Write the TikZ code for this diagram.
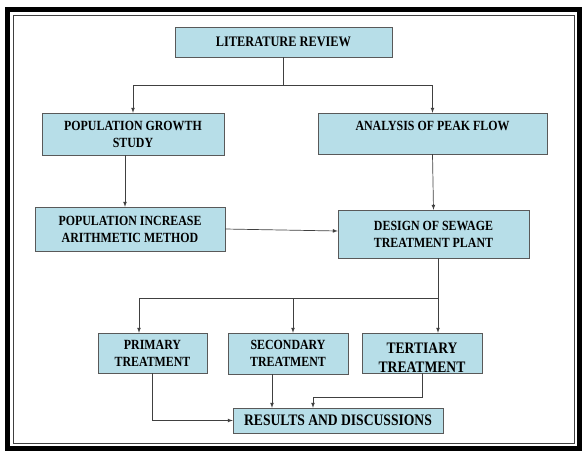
\documentclass[tikz,border=0pt]{standalone}
\usepackage{fontspec}
\setmainfont{Liberation Serif}[FakeStretch=0.85]
\usetikzlibrary{positioning,arrows,shadows}
\definecolor{boxfill}{RGB}{183,222,232}
\tikzset{
  box/.style={rectangle, draw=black!65, fill=boxfill, inner sep=0pt, align=center,
    font=\fontsize{14}{17}\selectfont\bfseries,
    drop shadow={shadow xshift=0.8pt, shadow yshift=-0.8pt, fill=black!45, opacity=1}},
  connect/.style={-latex, draw=black!75, line width=0.7pt}
}

\begin{document}
\begin{tikzpicture}[x=1pt,y=-1pt]
    \useasboundingbox (0,0) rectangle (582,451);
    % frame
    \draw[line width=5pt] (7.5,9) rectangle (579.5,448.5);
    \draw[black!75, line width=1pt] (13,15) rectangle (574.5,443);

    \node[box, minimum width=217pt, minimum height=30pt, font=\fontsize{14.5}{17}\selectfont\bfseries] (Lit) at (283.5,42) {LITERATURE REVIEW};
    \node[box, minimum width=182pt, minimum height=42pt] (Growth) at (133,134) {POPULATION GROWTH\\STUDY};
    \node[box, minimum width=229pt, minimum height=41pt, text height=10pt, text depth=16pt] (Peak) at (432.5,133.5) {ANALYSIS OF PEAK FLOW};
    \node[box, minimum width=190pt, minimum height=44pt] (Incr) at (130,229) {POPULATION INCREASE\\ARITHMETIC METHOD};
    \node[box, minimum width=191pt, minimum height=48pt] (Design) at (433.5,234) {DESIGN OF SEWAGE\\TREATMENT PLANT};
    \node[box, minimum width=109pt, minimum height=40pt] (Primary) at (152.5,353) {PRIMARY\\TREATMENT};
    \node[box, minimum width=120pt, minimum height=41pt] (Secondary) at (288,353.5) {SECONDARY\\TREATMENT};
    \node[box, minimum width=120pt, minimum height=40pt, font=\fontsize{16}{19}\selectfont\bfseries] (Tertiary) at (422,353) {\rule{0pt}{20pt}TERTIARY\\TREATMENT};
    \node[box, minimum width=210pt, minimum height=25pt, font=\fontsize{16}{19}\selectfont\bfseries] (Results) at (338,420.5) {RESULTS AND DISCUSSIONS};

    \draw[connect] (Lit.south) -- ++(0,28) -| (Growth.north);
    \draw[connect] (Lit.south) -- ++(0,28) -| (Peak.north);
    \path ([xshift=-8pt]Growth.south) edge [connect] ([xshift=-5pt]Incr.north)
          (Peak.south) edge [connect] (Design.north)
          (Incr.east) edge [connect] ([yshift=3pt]Design.west);

    \coordinate (Split) at (438,298);
    \draw[black!75, line width=0.7pt] ([xshift=4.5pt]Design.south) -- (Split);
    \draw[connect] (Split) -| ([xshift=-13.5pt]Primary.north);
    \draw[connect] (Split) -| ([xshift=5pt]Secondary.north);
    \draw[connect] (Split) -- (Split |- Tertiary.north);

    \draw[connect] (Primary.south) |- (Results.west);
    \draw[connect] ([xshift=-16pt]Secondary.south) -- ([xshift=-16pt]Secondary.south |- Results.north);
    \draw[connect] (Tertiary.south) -- ++(0,24) -| ([xshift=-25pt]Results.north);
\end{tikzpicture}
\end{document}
